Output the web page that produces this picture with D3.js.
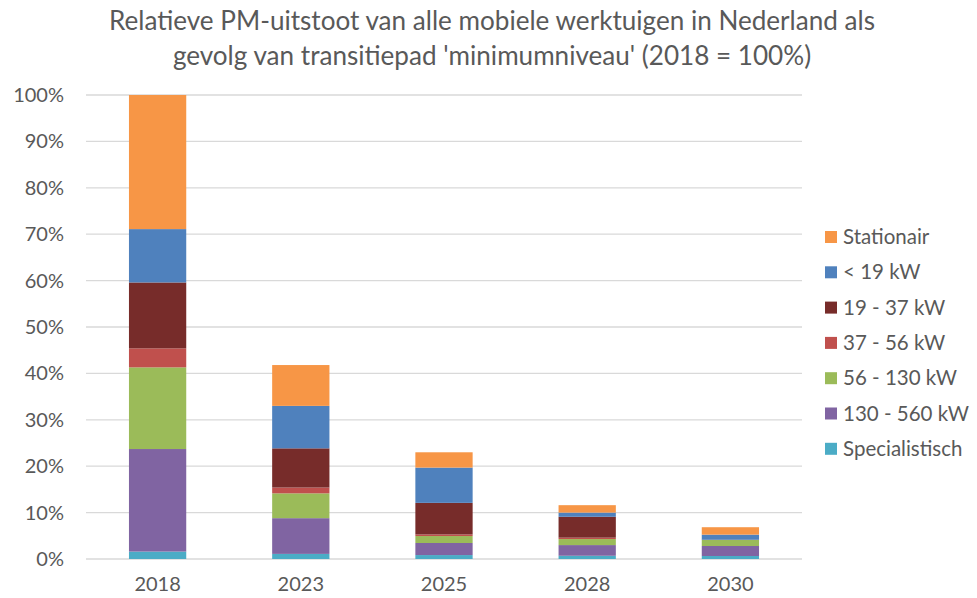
<!DOCTYPE html>
<html><head><meta charset="utf-8">
<script src="https://cdn.jsdelivr.net/npm/d3@7"></script>
<style>body{margin:0;background:#fff;} text{font-family:Lato, "Open Sans", sans-serif;}</style>
</head><body><svg id="c" width="977" height="598"></svg>
<script>
const years = ["2018","2023","2025","2028","2030"];
const seriesNames = ["Specialistisch","130 - 560 kW","56 - 130 kW","37 - 56 kW","19 - 37 kW","< 19 kW","Stationair"];
const colors = ["#4BACC6","#8064A2","#9BBB59","#C0504D","#772C2A","#4F81BD","#F79646"];
const specialistisch = [1.6, 1.1, 0.85, 0.7, 0.65];
const kw130_560 = [22.1, 7.7, 2.6, 2.3, 2.15];
const kw56_130 = [17.6, 5.35, 1.5, 1.3, 1.3];
const kw37_56 = [4.1, 1.25, 0.35, 0.3, 0.0];
const kw19_37 = [14.2, 8.45, 6.8, 4.5, 0.05];
const kwLt19 = [11.5, 9.15, 7.6, 0.9, 1.1];
const stationair = [28.9, 8.8, 3.3, 1.6, 1.6];
const yTicks = [0,10,20,30,40,50,60,70,80,90,100];
const title = ["Relatieve PM-uitstoot van alle mobiele werktuigen in Nederland als", "gevolg van transitiepad 'minimumniveau' (2018 = 100%)"];

const values = [specialistisch, kw130_560, kw56_130, kw37_56, kw19_37, kwLt19, stationair];
const table = years.map((y,i)=>{const o={year:y}; seriesNames.forEach((s,j)=>o[s]=values[j][i]); return o;});
const stack = d3.stack().keys(seriesNames)(table);

const svg = d3.select("#c");
const x = d3.scaleBand().domain(years).range([86,802]).paddingInner(0.6).paddingOuter(0.3);
const y = d3.scaleLinear().domain([0,100]).range([559,95]);

// gridlines
svg.append("g").selectAll("line").data(yTicks).join("line")
  .attr("x1",86).attr("x2",802).attr("y1",d=>y(d)).attr("y2",d=>y(d))
  .attr("stroke","#D9D9D9").attr("stroke-width",1.3);

// y labels
svg.append("g").selectAll("text").data(yTicks).join("text")
  .attr("x",64).attr("y",d=>y(d)).attr("dy","0.35em").attr("text-anchor","end")
  .attr("font-size",20).attr("fill","#595959").text(d=>d+"%");

// bars
svg.append("g").selectAll("g").data(stack).join("g").attr("fill",(d,i)=>colors[i])
  .selectAll("rect").data(d=>d).join("rect")
  .attr("x",d=>x(d.data.year)).attr("width",x.bandwidth())
  .attr("y",d=>y(d[1])).attr("height",d=>Math.max(0,y(d[0])-y(d[1])));

// x labels
svg.append("g").selectAll("text").data(years).join("text")
  .attr("x",d=>x(d)+x.bandwidth()/2).attr("y",591).attr("text-anchor","middle")
  .attr("font-size",20).attr("fill","#595959").text(d=>d);

// title
svg.append("g").selectAll("text").data(title).join("text")
  .attr("x",492).attr("y",(d,i)=>30+i*35).attr("text-anchor","middle")
  .attr("font-size",26.1).attr("fill","#595959").text(d=>d);

// legend
const legOrder = seriesNames.map((s,i)=>({s,c:colors[i]})).reverse();
const lg = svg.append("g").selectAll("g").data(legOrder).join("g")
  .attr("transform",(d,i)=>`translate(825,${237+i*35.3})`);
lg.append("rect").attr("x",0).attr("y",-6).attr("width",12).attr("height",12).attr("fill",d=>d.c);
lg.append("text").attr("x",18).attr("dy","0.35em").attr("font-size",20.5).attr("fill","#595959").text(d=>d.s);
</script></body></html>
